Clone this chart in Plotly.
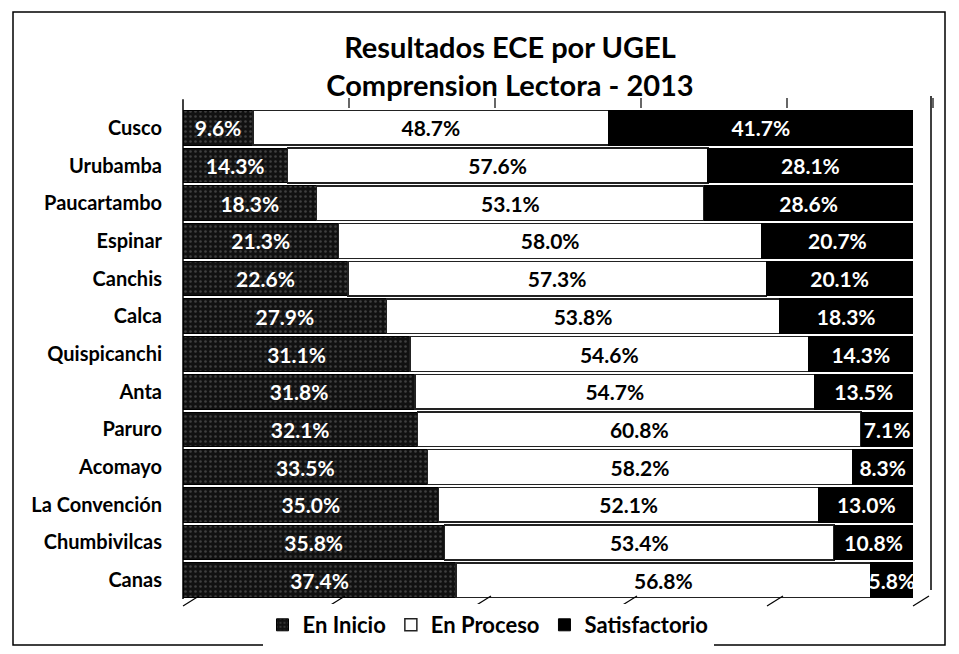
import plotly.graph_objects as go

# data (percent)
ugel = ['Cusco', 'Urubamba', 'Paucartambo', 'Espinar', 'Canchis', 'Calca',
        'Quispicanchi', 'Anta', 'Paruro', 'Acomayo', 'La Convención',
        'Chumbivilcas', 'Canas']
en_inicio = [9.6, 14.3, 18.3, 21.3, 22.6, 27.9, 31.1, 31.8, 32.1, 33.5, 35.0, 35.8, 37.4]
en_proceso = [48.7, 57.6, 53.1, 58.0, 57.3, 53.8, 54.6, 54.7, 60.8, 58.2, 52.1, 53.4, 56.8]
satisfactorio = [41.7, 28.1, 28.6, 20.7, 20.1, 18.3, 14.3, 13.5, 7.1, 8.3, 13.0, 10.8, 5.8]
grid_ticks = [0, 20, 40, 60, 80, 100]

# page body has an 8px margin, so the figure is a bit smaller than the window
OFF = 8
W, H = 959 - OFF, 654 - OFF
L, R, T, B = 183 - OFF, 46, 109 - OFF, 55
FONT = 'Lato'


def px_x(p):
    """screen pixel x -> paper x"""
    return (p - OFF - L) / (W - L - R)


def px_y(p):
    """screen pixel y (from top) -> paper y"""
    return (H - B - (p - OFF)) / (H - T - B)


fig = go.Figure()

fig.add_trace(go.Bar(
    name='En Inicio', y=ugel, x=en_inicio, orientation='h',
    marker=dict(color='#111111',
                pattern=dict(shape='.', fgcolor='#707070', bgcolor='#111111',
                             size=5, solidity=0.2),
                line=dict(color='#000000', width=1)),
    text=[f'{v:.1f}%' for v in en_inicio], textposition='inside',
    insidetextanchor='middle', constraintext='none',
    textfont=dict(family=FONT, size=21, color='white', weight='bold'),
))
fig.add_trace(go.Bar(
    name='En Proceso', y=ugel, x=en_proceso, orientation='h',
    marker=dict(color='white', line=dict(color='#222222', width=1.5)),
    text=[f'{v:.1f}%' for v in en_proceso], textposition='inside',
    insidetextanchor='middle', constraintext='none',
    textfont=dict(family=FONT, size=21, color='black', weight='bold'),
))
fig.add_trace(go.Bar(
    name='Satisfactorio', y=ugel, x=satisfactorio, orientation='h',
    marker=dict(color='#000000', line=dict(color='#000000', width=1)),
    text=[f'{v:.1f}%' for v in satisfactorio], textposition='inside',
    insidetextanchor='middle', constraintext='none',
    textfont=dict(family=FONT, size=21, color='white', weight='bold'),
))

shapes = []
# outer frame
shapes.append(dict(type='rect', xref='paper', yref='paper',
                   x0=px_x(13), x1=px_x(945), y0=px_y(645), y1=px_y(12),
                   line=dict(color='black', width=1.5)))
# pseudo 3D: left wall, right wall and tick slants
shapes.append(dict(type='line', xref='paper', yref='paper',
                   x0=0, x1=0, y0=0, y1=1.02, line=dict(color='black', width=1.5)))
shapes.append(dict(type='line', xref='paper', yref='paper',
                   x0=px_x(931), x1=px_x(931), y0=px_y(590), y1=px_y(96),
                   line=dict(color='black', width=1.5)))
for t in grid_ticks:
    xp = t / 100
    shapes.append(dict(type='line', xref='paper', yref='paper',
                       x0=xp, x1=xp + px_x(L + OFF + 16), y0=px_y(606), y1=px_y(596),
                       line=dict(color='black', width=1.2)))
    if 0 < t:
        shapes.append(dict(type='line', xref='paper', yref='paper',
                           x0=xp + px_x(L + OFF + 20), x1=xp + px_x(L + OFF + 20),
                           y0=px_y(108), y1=px_y(98),
                           line=dict(color='black', width=1.2)))

fig.update_layout(
    barmode='stack',
    bargap=0.08,
    width=W, height=H,
    margin=dict(l=L, r=R, t=T, b=B, autoexpand=False),
    paper_bgcolor='white', plot_bgcolor='white',
    font=dict(family=FONT, color='black'),
    title=dict(text='<b>Resultados ECE por UGEL<br>Comprension Lectora - 2013</b>',
               x=(510 - OFF) / W, xanchor='center', y=0.922, yanchor='top',
               font=dict(family=FONT, size=29, color='black'),
               automargin=False),
    xaxis=dict(range=[0, 100], showticklabels=False, showgrid=False,
               zeroline=False, fixedrange=True, automargin=False),
    yaxis=dict(autorange='reversed', showgrid=False, ticks='',
               ticklabelstandoff=20, automargin=False,
               tickfont=dict(family=FONT, size=20, color='black', weight='bold')),
    legend=dict(orientation='h', x=(488 - OFF) / W, xref='container', xanchor='center',
                y=1 - (625 - OFF) / H, yref='container', yanchor='middle',
                font=dict(family=FONT, size=22, color='black', weight='bold'),
                itemwidth=30, traceorder='normal'),
    shapes=shapes,
    showlegend=True,
)

fig.write_html('out.html')
